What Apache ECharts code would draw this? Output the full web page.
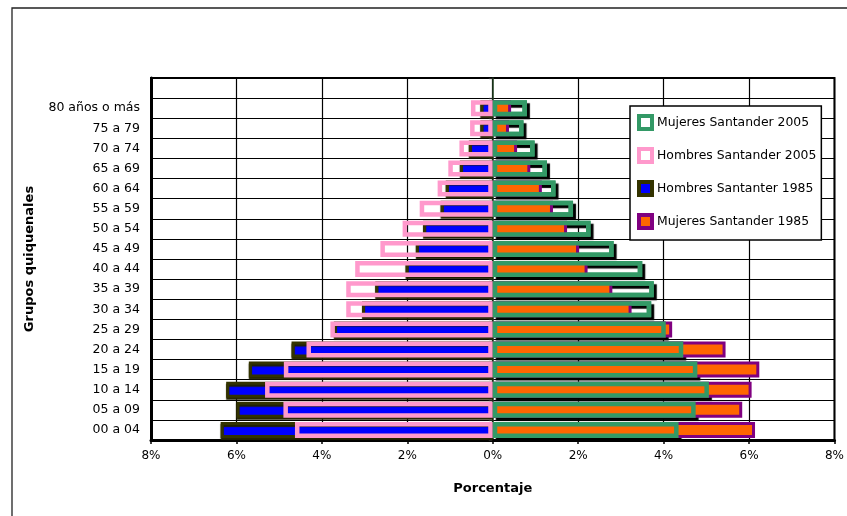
<!DOCTYPE html>
<html>
<head>
<meta charset="utf-8">
<script src="https://cdn.jsdelivr.net/npm/echarts@6/dist/echarts.min.js"></script>
<style>
html,body{margin:0;padding:0;background:#fff;}
#chart{width:847px;height:516px;}
</style>
</head>
<body>
<div id="chart"></div>
<script>
// Age groups, bottom to top (last entry is the empty band at the top of the plot)
var categories = ['00 a 04','05 a 09','10 a 14','15 a 19','20 a 24','25 a 29','30 a 34','35 a 39','40 a 44','45 a 49','50 a 54','55 a 59','60 a 64','65 a 69','70 a 74','75 a 79','80 años o más',''];
// Percentages (bottom to top)
var hombres1985 = [6.37, 6.00, 6.24, 5.71, 4.71, 3.72, 3.06, 2.75, 2.04, 1.80, 1.63, 1.22, 1.10, 0.77, 0.56, 0.29, 0.29];
var hombres2005 = [4.63, 4.90, 5.33, 4.89, 4.36, 3.80, 3.43, 3.43, 3.22, 2.63, 2.11, 1.71, 1.29, 1.04, 0.78, 0.53, 0.51];
var mujeres1985 = [6.14, 5.84, 6.06, 6.24, 5.45, 4.20, 3.25, 2.80, 2.22, 2.02, 1.74, 1.41, 1.15, 0.88, 0.57, 0.38, 0.43];
var mujeres2005 = [4.35, 4.75, 5.06, 4.79, 4.46, 4.05, 3.71, 3.77, 3.50, 2.83, 2.29, 1.88, 1.47, 1.27, 0.98, 0.72, 0.80];
var xTicks = [-8, -6, -4, -2, 0, 2, 4, 6, 8];

var names = {
  m05: 'Mujeres Santander 2005',
  h05: 'Hombres Santander 2005',
  h85: 'Hombres Santanter 1985',
  m85: 'Mujeres Santander 1985'
};
var FONT = 'DejaVu Sans';
function pad(arr){ return arr.concat([null]); }
function neg(arr){ return arr.map(function(v){ return -v; }); }

var BW = 16;
var chart = echarts.init(document.getElementById('chart'), null, {renderer:'canvas'});
chart.setOption({
  animation: false,
  backgroundColor: '#fff',
  textStyle: {fontFamily: FONT, color: '#000'},
  graphic: [{
    type: 'rect', z: -10, silent: true,
    shape: {x: 12, y: 8, width: 900, height: 600},
    style: {fill: 'none', stroke: '#222', lineWidth: 1.3}
  }],
  grid: {left: 151, right: 12, top: 78, bottom: 76, show: true, borderColor: '#000', borderWidth: 2, backgroundColor: 'transparent'},
  legend: {
    orient: 'vertical', left: 630, top: 106,
    padding: [8, 5, 10, 7], itemGap: 16,
    itemWidth: 13, itemHeight: 13, itemTextGap: 3,
    backgroundColor: '#fff', borderColor: '#000', borderWidth: 1.5,
    textStyle: {fontFamily: FONT, fontSize: 12.4, color: '#000'},
    icon: 'rect',
    data: [
      {name: names.m05, itemStyle: {color: '#fff', borderColor: '#339966', borderWidth: 4}},
      {name: names.h05, itemStyle: {color: '#fff', borderColor: '#FF99CC', borderWidth: 4}},
      {name: names.h85, itemStyle: {color: '#0000FF', borderColor: '#333300', borderWidth: 4}},
      {name: names.m85, itemStyle: {color: '#FF6600', borderColor: '#800080', borderWidth: 4}}
    ]
  },
  xAxis: {
    type: 'value', min: -8, max: 8, interval: 2,
    name: 'Porcentaje', nameLocation: 'middle', nameGap: 42,
    nameTextStyle: {fontFamily: FONT, fontSize: 13, fontWeight: 'bold', color: '#000'},
    axisLine: {show: true, onZero: false, lineStyle: {color: '#000', width: 3}},
    axisTick: {show: true, length: 4, lineStyle: {color: '#000', width: 1.5}},
    axisLabel: {fontFamily: FONT, fontSize: 12, color: '#000', margin: 10,
      formatter: function(v){ return Math.abs(v) + '%'; }},
    splitLine: {show: true, lineStyle: {color: '#000', width: 1.2}}
  },
  yAxis: [{
    type: 'category', data: categories,
    name: 'Grupos quiquenales', nameLocation: 'middle', nameGap: 115, nameRotate: 90,
    nameTextStyle: {fontFamily: FONT, fontSize: 13, fontWeight: 'bold', color: '#000'},
    axisLine: {show: true, onZero: false, lineStyle: {color: '#000', width: 3}},
    axisTick: {show: false},
    axisLabel: {fontFamily: FONT, fontSize: 12.5, color: '#000', margin: 11},
    splitLine: {show: true, lineStyle: {color: '#000', width: 1.2}}
  }, {
    type: 'category', data: categories, position: 'left',
    axisLine: {show: true, onZero: true, lineStyle: {color: '#1f3f1f', width: 1.5}},
    axisTick: {show: true, length: 4, inside: false, lineStyle: {color: '#222', width: 1.2}},
    axisLabel: {show: false},
    splitLine: {show: false}
  }],
  series: [
    { // drop shadow of the 2005 women outline (drawn beneath the 1985 bars)
      type: 'bar', silent: true, barWidth: BW, barGap: '-100%', yAxisIndex: 0,
      data: pad(mujeres2005),
      itemStyle: {color: 'rgba(0,0,0,0)', borderColor: '#339966', borderWidth: 4.5,
        shadowColor: '#000', shadowBlur: 1, shadowOffsetX: 3, shadowOffsetY: 3}
    },
    {
      name: names.h85, type: 'bar', barWidth: BW, barGap: '-100%', yAxisIndex: 0,
      data: pad(neg(hombres1985)),
      itemStyle: {color: '#0000FF', borderColor: '#333300', borderWidth: 3,
        shadowColor: '#222200', shadowBlur: 1, shadowOffsetX: 0, shadowOffsetY: 2}
    },
    {
      name: names.m85, type: 'bar', barWidth: BW, barGap: '-100%', yAxisIndex: 0,
      data: pad(mujeres1985),
      itemStyle: {color: '#FF6600', borderColor: '#800080', borderWidth: 3}
    },
    {
      name: names.h05, type: 'bar', barWidth: BW, barGap: '-100%', yAxisIndex: 0,
      data: pad(neg(hombres2005)),
      itemStyle: {color: 'rgba(0,0,0,0)', borderColor: '#FF99CC', borderWidth: 4.5}
    },
    {
      name: names.m05, type: 'bar', barWidth: BW, barGap: '-100%', yAxisIndex: 0,
      data: pad(mujeres2005),
      itemStyle: {color: 'rgba(0,0,0,0)', borderColor: '#339966', borderWidth: 4.5}
    }
  ]
});
</script>
</body>
</html>
